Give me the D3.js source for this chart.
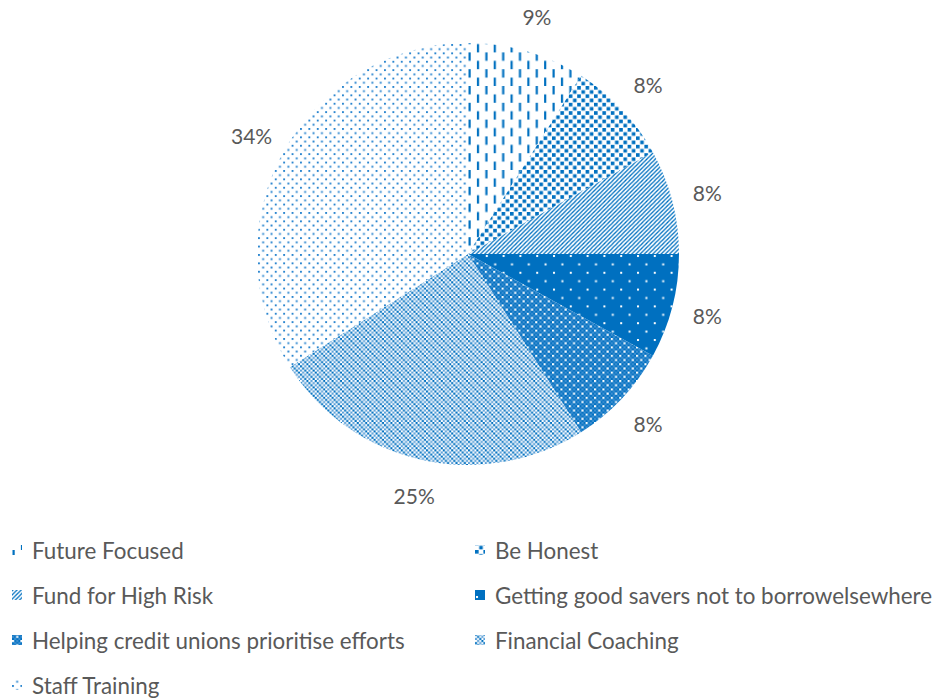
<!DOCTYPE html>
<html>
<head>
<meta charset="utf-8">
<script src="https://cdn.jsdelivr.net/npm/d3@7"></script>
<style>
  html, body { margin: 0; padding: 0; background: #ffffff; }
  svg { display: block; }
  text { font-family: Lato, "Open Sans", sans-serif; fill: #595959; }
</style>
</head>
<body>
<svg id="chart" width="936" height="699"></svg>
<script>
// Share of responses per initiative
const categories = [
  "Future Focused",
  "Be Honest",
  "Fund for High Risk",
  "Getting good savers not to borrowelsewhere",
  "Helping credit unions prioritise efforts",
  "Financial Coaching",
  "Staff Training"
];
const values = [9, 8, 8, 8, 8, 25, 34];
const valueLabels = ["9%", "8%", "8%", "8%", "8%", "25%", "34%"];
const patternIds = ["pFuture", "pHonest", "pFund", "pSavers", "pHelping", "pCoaching", "pTraining"];

const BLUE = "#0070C0";

const svg = d3.select("#chart");
const defs = svg.append("defs");

// ---- fill patterns ----
function makePattern(id, w, h, bg) {
  const p = defs.append("pattern")
    .attr("id", id)
    .attr("patternUnits", "userSpaceOnUse")
    .attr("width", w).attr("height", h);
  p.append("rect").attr("width", w).attr("height", h).attr("fill", bg);
  return p;
}
function sq(p, x, y, s, fill) {
  p.append("rect").attr("x", x).attr("y", y).attr("width", s).attr("height", s).attr("fill", fill);
}

const u = 8.4; // base tile size

// dashed vertical
{
  const p = makePattern("pFuture", u * 2, u * 2, "#fff");
  p.append("rect").attr("x", 0.5).attr("y", 0).attr("width", 2.2).attr("height", 8.4).attr("fill", BLUE);
  p.append("rect").attr("x", u + 0.5).attr("y", u).attr("width", 2.2).attr("height", 8.4).attr("fill", BLUE);
}
// confetti squares
{
  const p = makePattern("pHonest", u, u, "#fff");
  sq(p, 0, 0, 3.6, BLUE);
  sq(p, u / 2, u / 2, 3.6, BLUE);
}
// upward diagonal
{
  const s = 4.2;
  const p = makePattern("pFund", s, s, "#fff");
  p.append("path")
    .attr("d", `M${-s},${s} L${s},${-s} M0,${s} L${s},0 M0,${2 * s} L${2 * s},0`)
    .attr("stroke", BLUE).attr("stroke-width", 1.3);
}
// solid with white dots
{
  const p = makePattern("pSavers", u * 2, u * 2, BLUE);
  sq(p, 1, 1, 2, "#fff");
  sq(p, u + 1, u + 1, 2, "#fff");
}
// dense checker
{
  const c = u / 4;
  const p = makePattern("pHelping", u, u, "#3f90d3");
  for (let i = 0; i < 4; i++) for (let j = 0; j < 4; j++) {
    if ((i + j) % 2 === 1) sq(p, i * c, j * c, c, BLUE);
  }
  sq(p, 0, 0, c, "#fff");
  sq(p, 2 * c, 2 * c, c, "#fff");
}
// light checker
{
  const c = u / 4;
  const p = makePattern("pCoaching", u, u, "#fff");
  const cells = [[1, 0], [0, 1], [2, 1], [1, 2], [3, 2], [2, 3], [0, 3], [3, 0]];
  cells.forEach(([i, j], k) => sq(p, i * c, j * c, c, k % 2 ? BLUE : "#5b9fd8"));
}
// sparse dots
{
  const p = makePattern("pTraining", u, u, "#fff");
  sq(p, 0, 0, 1.9, "#2b86cf");
  sq(p, u / 2, u / 2, 1.9, "#2b86cf");
}

// ---- pie ----
const cx = 468, cy = 254, r = 211, labelR = 247;

const pie = d3.pie().sort(null).value(d => d.value);
const data = categories.map((c, i) => ({ name: c, value: values[i], label: valueLabels[i], pat: patternIds[i] }));
const arcs = pie(data);

const arc = d3.arc().innerRadius(0).outerRadius(r);
const labelArc = d3.arc().innerRadius(labelR).outerRadius(labelR);

const g = svg.append("g").attr("transform", `translate(${cx},${cy})`);

g.selectAll("path.slice")
  .data(arcs)
  .join("path")
  .attr("class", "slice")
  .attr("d", arc)
  .attr("fill", d => `url(#${d.data.pat})`);

g.selectAll("text.val")
  .data(arcs)
  .join("text")
  .attr("class", "val")
  .attr("transform", d => `translate(${labelArc.centroid(d)})`)
  .attr("text-anchor", "middle")
  .attr("dominant-baseline", "central")
  .attr("font-size", 21)
  .text(d => d.data.label);

// ---- legend ----
const legendX = [12, 475];
const legendY0 = 550, legendDY = 45;

const legend = svg.append("g");
const items = legend.selectAll("g.item")
  .data(data)
  .join("g")
  .attr("class", "item")
  .attr("transform", (d, i) => `translate(${legendX[i % 2]},${legendY0 + Math.floor(i / 2) * legendDY})`);

items.append("rect")
  .attr("x", 0).attr("y", -5)
  .attr("width", 10).attr("height", 10)
  .attr("fill", d => `url(#${d.pat})`);

items.append("text")
  .attr("x", 20)
  .attr("y", 0)
  .attr("dominant-baseline", "central")
  .attr("font-size", 22.4)
  .text(d => d.name);
</script>
</body>
</html>
